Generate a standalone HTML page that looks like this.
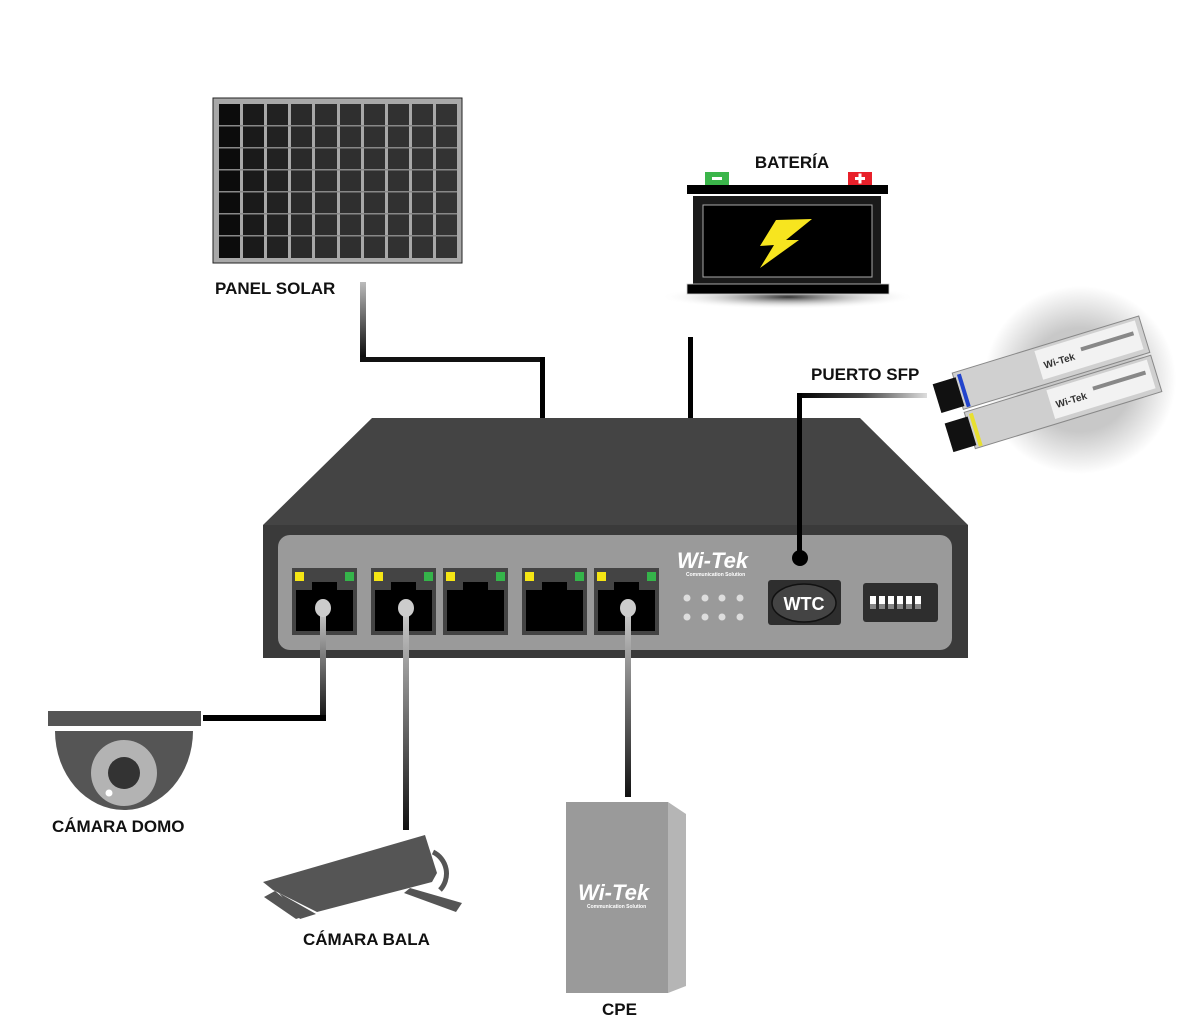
<!DOCTYPE html>
<html><head><meta charset="utf-8"><style>
html,body{margin:0;padding:0;background:#fff;}
svg{display:block}
text{font-family:"Liberation Sans",sans-serif;font-weight:bold;}
</style></head><body>
<svg width="1194" height="1024" viewBox="0 0 1194 1024" xmlns="http://www.w3.org/2000/svg">
<defs>
<linearGradient id="cabV" x1="0" y1="0" x2="0" y2="1"><stop offset="0" stop-color="#bbb"/><stop offset="1" stop-color="#000"/></linearGradient>
<linearGradient id="cabH" x1="1" y1="0" x2="0" y2="0"><stop offset="0" stop-color="#ddd"/><stop offset="0.5" stop-color="#444"/><stop offset="1" stop-color="#000"/></linearGradient>
<linearGradient id="plugV" x1="0" y1="0" x2="0" y2="1"><stop offset="0" stop-color="#ccc"/><stop offset="1" stop-color="#111"/></linearGradient>
<radialGradient id="sfpbg" cx="0.5" cy="0.5" r="0.5"><stop offset="0.55" stop-color="#c8c8c8"/><stop offset="1" stop-color="#fff"/></radialGradient>
<radialGradient id="shadow" cx="0.5" cy="0.5" r="0.5"><stop offset="0" stop-color="#333"/><stop offset="1" stop-color="#fff" stop-opacity="0"/></radialGradient>
</defs>

<!-- Solar panel -->
<rect x="213" y="98" width="249" height="165" fill="#a8a8a8" stroke="#222" stroke-width="1"/>
<rect x="219" y="104" width="21" height="154" fill="#0c0c0c"/>
<rect x="243" y="104" width="21" height="154" fill="#1a1a1a"/>
<rect x="267" y="104" width="21" height="154" fill="#222"/>
<rect x="291" y="104" width="21" height="154" fill="#2a2a2a"/>
<rect x="315" y="104" width="22" height="154" fill="#2d2d2d"/>
<rect x="340" y="104" width="21" height="154" fill="#2f2f2f"/>
<rect x="364" y="104" width="21" height="154" fill="#303030"/>
<rect x="388" y="104" width="21" height="154" fill="#313131"/>
<rect x="412" y="104" width="21" height="154" fill="#323232"/>
<rect x="436" y="104" width="21" height="154" fill="#333"/>
<g fill="#888">
<rect x="219" y="125" width="238" height="1.5"/><rect x="219" y="147" width="238" height="1.5"/><rect x="219" y="169" width="238" height="1.5"/><rect x="219" y="191" width="238" height="1.5"/><rect x="219" y="213" width="238" height="1.5"/><rect x="219" y="235" width="238" height="1.5"/>
</g>
<text x="215" y="294" font-size="17" fill="#111">PANEL SOLAR</text>

<!-- solar cable -->
<rect x="360" y="282" width="6" height="80" fill="url(#cabV)"/>
<rect x="360" y="357" width="185" height="5" fill="#111"/>
<rect x="540" y="357" width="5" height="62" fill="#000"/>

<!-- Battery -->
<text x="792" y="168" font-size="17" fill="#111" text-anchor="middle">BATERÍA</text>
<rect x="705" y="172" width="24" height="13" fill="#3bb54a"/>
<rect x="712" y="177" width="10" height="3" fill="#fff"/>
<rect x="848" y="172" width="24" height="13" fill="#e8202a"/>
<rect x="855" y="177" width="10" height="3" fill="#fff"/><rect x="858.5" y="173.5" width="3" height="10" fill="#fff"/>
<ellipse cx="788" cy="297" rx="128" ry="12" fill="url(#shadow)"/>
<rect x="687" y="185" width="201" height="9" fill="#000"/>
<rect x="693" y="196" width="188" height="88" fill="#1a1a1a"/>
<rect x="703" y="205" width="169" height="72" fill="#000" stroke="#aaa" stroke-width="1"/>
<polygon points="776,220 812,219 786,240 799,240 760,268 774,245 760,246" fill="#f7e51f"/>
<rect x="687" y="284" width="202" height="10" fill="#000" stroke="#ccc" stroke-width="0.8"/>
<rect x="688" y="337" width="5" height="82" fill="#000"/>

<!-- SFP -->
<ellipse cx="1080" cy="380" rx="96" ry="94" fill="url(#sfpbg)"/>
<g transform="rotate(-17 1050 385)">
<rect x="960" y="345" width="195" height="38" fill="#d0d0d0" stroke="#888"/>
<rect x="960" y="386" width="195" height="38" fill="#cfcfcf" stroke="#888"/>
<rect x="938" y="350" width="24" height="30" fill="#111"/>
<rect x="938" y="391" width="24" height="30" fill="#111"/>
<rect x="964" y="348" width="4" height="34" fill="#2244cc"/>
<rect x="964" y="389" width="4" height="34" fill="#e8e030"/>
<rect x="1045" y="348" width="105" height="30" fill="#f2f2f2"/>
<rect x="1045" y="389" width="105" height="30" fill="#f2f2f2"/>
<text x="1050" y="368" font-size="10" fill="#333">Wi-Tek</text>
<text x="1050" y="409" font-size="10" fill="#333">Wi-Tek</text>
<rect x="1090" y="358" width="55" height="4" fill="#888"/><rect x="1090" y="399" width="55" height="4" fill="#888"/>
</g>
<text x="811" y="380" font-size="17" fill="#111">PUERTO SFP</text>

<!-- Switch -->
<polygon points="372,418 860,418 968,525 263,525" fill="#444"/>
<rect x="263" y="525" width="705" height="133" fill="#3a3a3a"/>
<rect x="278" y="535" width="674" height="115" rx="12" fill="#9a9a9a"/>
<g>
<rect x="292" y="568" width="65" height="67" fill="#444"/><rect x="296" y="590" width="57" height="41" fill="#000"/><rect x="312" y="582" width="25" height="10" fill="#000"/>
<rect x="371" y="568" width="65" height="67" fill="#444"/><rect x="375" y="590" width="57" height="41" fill="#000"/><rect x="391" y="582" width="25" height="10" fill="#000"/>
<rect x="443" y="568" width="65" height="67" fill="#444"/><rect x="447" y="590" width="57" height="41" fill="#000"/><rect x="463" y="582" width="25" height="10" fill="#000"/>
<rect x="522" y="568" width="65" height="67" fill="#444"/><rect x="526" y="590" width="57" height="41" fill="#000"/><rect x="542" y="582" width="25" height="10" fill="#000"/>
<rect x="594" y="568" width="65" height="67" fill="#444"/><rect x="598" y="590" width="57" height="41" fill="#000"/><rect x="614" y="582" width="25" height="10" fill="#000"/>
</g>
<g fill="#f5e514">
<rect x="295" y="572" width="9" height="9"/><rect x="374" y="572" width="9" height="9"/><rect x="446" y="572" width="9" height="9"/><rect x="525" y="572" width="9" height="9"/><rect x="597" y="572" width="9" height="9"/>
</g>
<g fill="#35b44a">
<rect x="345" y="572" width="9" height="9"/><rect x="424" y="572" width="9" height="9"/><rect x="496" y="572" width="9" height="9"/><rect x="575" y="572" width="9" height="9"/><rect x="647" y="572" width="9" height="9"/>
</g>
<g fill="#ddd">
<circle cx="687" cy="598" r="3.5"/><circle cx="705" cy="598" r="3.5"/><circle cx="722" cy="598" r="3.5"/><circle cx="740" cy="598" r="3.5"/>
<circle cx="687" cy="617" r="3.5"/><circle cx="705" cy="617" r="3.5"/><circle cx="722" cy="617" r="3.5"/><circle cx="740" cy="617" r="3.5"/>
</g>
<text x="677" y="568" font-size="22" fill="#fff" font-style="italic">Wi-Tek</text>
<text x="686" y="576" font-size="5" fill="#fff" font-weight="normal">Communication Solution</text>
<rect x="768" y="580" width="73" height="45" rx="3" fill="#2e2e2e"/>
<ellipse cx="804" cy="603" rx="32" ry="19" fill="#444" stroke="#111" stroke-width="1.5"/>
<text x="804" y="610" font-size="18" fill="#fff" text-anchor="middle" font-weight="normal">WTC</text>
<rect x="863" y="583" width="75" height="39" rx="3" fill="#2e2e2e"/>
<g fill="#fff"><rect x="870" y="596" width="6" height="8"/><rect x="879" y="596" width="6" height="8"/><rect x="888" y="596" width="6" height="8"/><rect x="897" y="596" width="6" height="8"/><rect x="906" y="596" width="6" height="8"/><rect x="915" y="596" width="6" height="8"/></g>
<g fill="#888"><rect x="870" y="604" width="6" height="5"/><rect x="879" y="604" width="6" height="5"/><rect x="888" y="604" width="6" height="5"/><rect x="897" y="604" width="6" height="5"/><rect x="906" y="604" width="6" height="5"/><rect x="915" y="604" width="6" height="5"/></g>

<!-- SFP cable (over switch) -->
<rect x="797" y="393" width="130" height="5" fill="url(#cabH)"/>
<rect x="797" y="393" width="5" height="165" fill="#000"/>
<circle cx="800" cy="558" r="8" fill="#000"/>

<!-- Cables down -->
<rect x="320" y="608" width="6" height="112" fill="url(#plugV)"/>
<rect x="203" y="715" width="123" height="6" fill="#000"/>
<rect x="403" y="608" width="6" height="222" fill="url(#plugV)"/>
<rect x="625" y="608" width="6" height="189" fill="url(#plugV)"/>
<ellipse cx="323" cy="608" rx="8" ry="9" fill="#ccc"/>
<ellipse cx="406" cy="608" rx="8" ry="9" fill="#ccc"/>
<ellipse cx="628" cy="608" rx="8" ry="9" fill="#ccc"/>

<!-- Dome camera -->
<rect x="48" y="711" width="153" height="15" fill="#555"/>
<path d="M55 731 H193 A69 79 0 0 1 55 731 Z" fill="#555"/>
<circle cx="124" cy="773" r="33" fill="#b3b3b3"/>
<circle cx="124" cy="773" r="16" fill="#333"/>
<circle cx="109" cy="793" r="3.5" fill="#fff"/>
<text x="52" y="832" font-size="17" fill="#111">CÁMARA DOMO</text>

<!-- Bullet camera -->
<path d="M433 852 A24 24 0 0 1 440 890" fill="none" stroke="#555" stroke-width="5"/>
<polygon points="263,882 425,835 437,873 432,882 317,912 273,890" fill="#555"/>
<polygon points="264,897 275,891 305,916 296,919" fill="#555"/>
<polygon points="279,893 316,914 300,919" fill="#555"/>
<polygon points="410,888 462,903 456,912 404,893" fill="#555"/>
<text x="303" y="945" font-size="17" fill="#111">CÁMARA BALA</text>

<!-- CPE -->
<polygon points="668,802 686,814 686,986 668,993" fill="#b5b5b5"/>
<rect x="566" y="802" width="102" height="191" fill="#9a9a9a"/>
<text x="578" y="900" font-size="22" fill="#fff" font-style="italic">Wi-Tek</text>
<text x="587" y="908" font-size="5" fill="#fff" font-weight="normal">Communication Solution</text>
<text x="602" y="1015" font-size="17" fill="#111">CPE</text>
</svg>
</body></html>
